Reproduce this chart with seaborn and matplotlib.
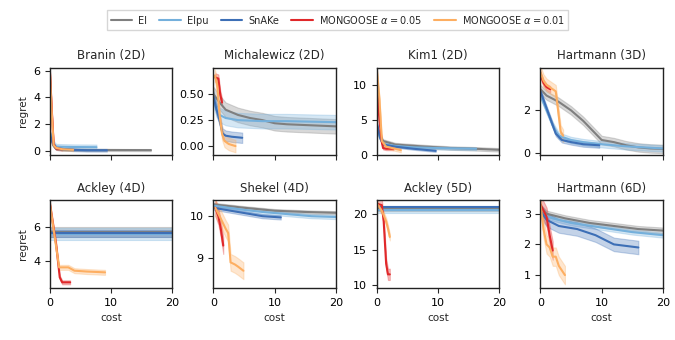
import matplotlib
matplotlib.use("Agg")
import matplotlib.pyplot as plt
import numpy as np
import seaborn as sns

# method names / colours
methods = ["EI", "EIpu", "SnAKe", r"MONGOOSE $\alpha = 0.05$", r"MONGOOSE $\alpha = 0.01$"]
colors = ["#7f7f7f", "#74b0dc", "#3d6fb6", "#e0282a", "#fdae61"]

titles = ["Branin (2D)", "Michalewicz (2D)", "Kim1 (2D)", "Hartmann (3D)",
          "Ackley (4D)", "Shekel (4D)", "Ackley (5D)", "Hartmann (6D)"]

# each entry: (cost, mean regret, half-width of the band), order as in `methods`
branin = [
    ([0, 0.5, 1, 2, 4, 8, 16.5], [1.4, 0.4, 0.12, 0.06, 0.05, 0.04, 0.03], 0.08),
    ([0, 0.5, 1, 2, 4, 7.6], [1.3, 0.6, 0.3, 0.28, 0.26, 0.25], 0.2),
    ([0, 0.5, 1, 2, 4, 6, 9.3], [1.2, 0.5, 0.2, 0.12, 0.05, 0.02, 0.02], 0.1),
    ([0, 0.3, 0.6, 1, 2.0], [5.9, 3.0, 0.5, 0.15, 0.1], 0.1),
    ([0, 0.3, 0.6, 1, 2, 3.8], [5.8, 2.8, 0.4, 0.2, 0.1, 0.05], 0.1),
]
michal = [
    ([0, 1, 2, 4, 6, 8, 10, 12, 16, 20], [0.50, 0.42, 0.35, 0.30, 0.27, 0.25, 0.22, 0.21, 0.20, 0.19], 0.07),
    ([0, 0.5, 1, 2, 4, 8, 12, 16, 20], [0.45, 0.35, 0.30, 0.27, 0.25, 0.24, 0.24, 0.235, 0.23], 0.07),
    ([0, 0.5, 1, 1.5, 2, 3, 4.7], [0.48, 0.35, 0.25, 0.12, 0.10, 0.09, 0.08], 0.05),
    ([0.3, 0.8, 1.1, 1.4], [0.66, 0.65, 0.50, 0.42], 0.04),
    ([0.2, 0.6, 1.0, 1.4, 1.8, 2.5, 3.6], [0.68, 0.60, 0.30, 0.12, 0.05, 0.02, 0.0], 0.06),
]
kim1 = [
    ([0, 0.5, 1, 3, 8, 12, 16, 20], [4.0, 2.8, 2.0, 1.5, 1.2, 1.0, 0.9, 0.75], 0.25),
    ([0, 0.5, 1, 3, 6, 10, 16.2], [4.0, 2.4, 1.6, 1.3, 1.1, 1.0, 0.9], 0.2),
    ([0, 0.5, 1, 3, 6, 9.6], [4.5, 2.5, 1.5, 1.2, 0.9, 0.6], 0.15),
    ([0, 0.4, 0.8, 1.0, 1.5, 2.7], [10.0, 5.0, 1.8, 1.0, 0.9, 0.9], 0.2),
    ([0, 0.4, 0.8, 1.5, 2.5, 3.9], [12.0, 8.0, 2.0, 1.2, 1.0, 0.7], 0.3),
]
hart3 = [
    ([0, 1, 3, 5, 7, 9, 10, 12, 14, 16, 18, 20], [3.0, 2.7, 2.4, 2.0, 1.5, 0.9, 0.6, 0.5, 0.35, 0.25, 0.2, 0.18], 0.2),
    ([0, 1, 2, 3, 5, 7, 10, 14, 17, 20], [2.7, 2.0, 1.3, 0.8, 0.6, 0.5, 0.4, 0.3, 0.25, 0.2], 0.15),
    ([0, 0.5, 1.5, 2.5, 3.5, 5, 7, 9.6], [2.9, 2.5, 1.7, 0.9, 0.6, 0.5, 0.4, 0.35], 0.12),
    ([0, 0.5, 1.0, 1.6], [3.7, 3.3, 3.1, 3.0], 0.15),
    ([0, 0.5, 1, 2, 2.5, 3.3, 3.7], [3.8, 3.4, 3.2, 3.0, 2.9, 1.0, 0.8], 0.3),
]
ackley4 = [
    ([0, 5, 10, 15, 20], [5.72, 5.72, 5.72, 5.72, 5.72], 0.3),
    ([0, 5, 10, 15, 20], [5.6, 5.6, 5.6, 5.6, 5.6], 0.35),
    ([0, 5, 10, 15, 20], [5.65, 5.65, 5.65, 5.65, 5.65], 0.2),
    ([0, 1, 1.6, 2, 3.3], [7.4, 5.0, 3.0, 2.7, 2.7], 0.12),
    ([0, 1.5, 3, 4, 6, 9], [7.4, 3.6, 3.6, 3.4, 3.35, 3.3], 0.15),
]
shekel = [
    ([0, 5, 10, 15, 20], [10.28, 10.2, 10.13, 10.1, 10.08], 0.04),
    ([0, 5, 8, 12, 16, 20], [10.25, 10.15, 10.1, 10.05, 10.0, 9.98], 0.05),
    ([0, 2, 4, 6, 8, 11], [10.2, 10.15, 10.1, 10.05, 10.0, 9.97], 0.05),
    ([0.3, 0.8, 1.2, 1.6], [10.2, 10.0, 9.7, 9.3], 0.2),
    ([0.3, 1, 2, 2.4, 2.8, 3.5, 4, 4.9], [10.2, 10.0, 9.7, 9.6, 8.9, 8.85, 8.8, 8.7], 0.2),
]
ackley5 = [
    ([0, 5, 10, 15, 20], [20.8, 20.8, 20.8, 20.8, 20.8], 0.3),
    ([0, 5, 10, 15, 20], [20.6, 20.6, 20.6, 20.6, 20.6], 0.4),
    ([0, 5, 10, 15, 20], [21.0, 21.0, 21.0, 21.0, 21.0], 0.15),
    ([0, 0.8, 1.1, 1.5, 1.8, 2.1], [21.5, 21.3, 19.0, 13.0, 11.5, 11.5], 0.8),
    ([0, 0.8, 1.5, 1.8, 2.1], [21.5, 20.5, 19.0, 18.0, 16.8], 0.5),
]
hart6 = [
    ([0, 1, 4, 8, 12, 16, 20], [3.2, 3.0, 2.85, 2.7, 2.6, 2.5, 2.45], 0.1),
    ([0, 2, 5, 10, 15, 20], [3.0, 2.85, 2.7, 2.55, 2.4, 2.3], 0.08),
    ([0, 1, 3, 6, 9, 11, 12, 16], [3.1, 2.8, 2.6, 2.5, 2.3, 2.1, 2.0, 1.9], 0.22),
    ([0, 1, 1.5, 2], [3.3, 2.9, 2.3, 1.8], 0.3),
    ([0, 0.5, 1, 1.5, 2, 2.5, 3, 4], [3.3, 2.5, 2.0, 1.9, 1.6, 1.6, 1.3, 1.0], 0.3),
]
panels = [branin, michal, kim1, hart3, ackley4, shekel, ackley5, hart6]

ylims = [(-0.37, 6.22), (-0.09, 0.755), (-0.05, 12.45), (-0.13, 4.02),
         (2.36, 7.64), (8.29, 10.38), (9.57, 22.0), (0.58, 3.44)]
yticks = [[0, 2, 4, 6], [0.0, 0.25, 0.5], [0, 5, 10], [0, 2],
          [4, 6], [9, 10], [10, 15, 20], [1, 2, 3]]
ytick_fmt = [None, "{:.2f}", None, None, None, None, None, None]

sns.set_style("ticks")
plt.rcParams['font.family'] = ['DejaVu Sans']

fig, axes = plt.subplots(2, 4, figsize=(6.75, 3.4), dpi=100, sharex=True)
fig.subplots_adjust(left=0.074, right=0.982, top=0.801, bottom=0.153,
                    wspace=0.336, hspace=0.51)

for i, ax in enumerate(axes.flat):
    for m, (cx, cy, sd) in enumerate(panels[i]):
        cx = np.asarray(cx, dtype=float)
        cy = np.asarray(cy, dtype=float)
        sns.lineplot(x=cx, y=cy, ax=ax, color=colors[m], lw=1.5,
                     label=methods[m] if i == 0 else None, legend=False)
        ax.fill_between(cx, cy - sd, cy + sd, color=colors[m], alpha=0.3, lw=0.8)
    ax.set_title(titles[i], fontsize=8.5)
    ax.set_xlim(0, 20)
    ax.set_xticks([0, 10, 20])
    ax.set_ylim(*ylims[i])
    ax.set_yticks(yticks[i])
    if ytick_fmt[i]:
        ax.set_yticklabels([ytick_fmt[i].format(t) for t in yticks[i]])
    ax.tick_params(labelsize=8, length=3.5, width=0.8, labelcolor="black")
    for s in ax.spines.values():
        s.set_linewidth(1.0)
        s.set_color("#222222")
    ax.set_ylabel("regret" if i % 4 == 0 else "", fontsize=7.5)
    ax.set_xlabel("cost" if i >= 4 else "", fontsize=7.5)

handles, labels = axes.flat[0].get_legend_handles_labels()
fig.legend(handles, labels, loc="upper center", bbox_to_anchor=(0.5, 0.985),
           ncol=5, fontsize=7, frameon=True, fancybox=False,
           edgecolor="#cccccc", handlelength=2.2, columnspacing=1.3,
           handletextpad=0.6)

fig.savefig("out.png", dpi=100)
